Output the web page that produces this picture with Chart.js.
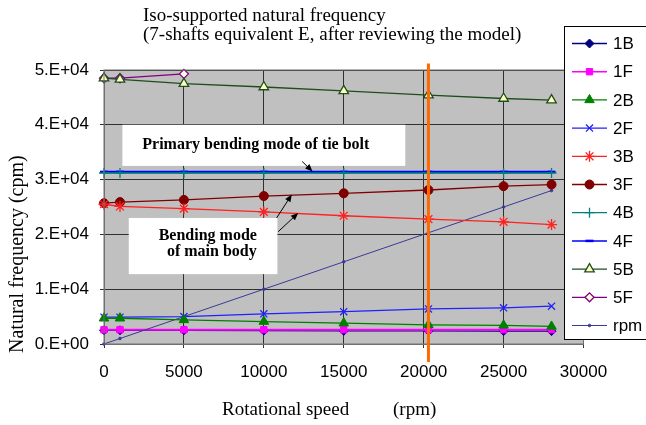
<!DOCTYPE html>
<html>
<head>
<meta charset="utf-8">
<script src="https://cdn.jsdelivr.net/npm/chart.js@4/dist/chart.umd.min.js"></script>
<style>
  html, body { margin: 0; padding: 0; background: #fff; }
  #wrap { width: 646px; height: 425px; position: relative; }
</style>
</head>
<body>
<div id="wrap"><canvas id="freqChart" width="646" height="425"></canvas></div>
<script>
'use strict';

// ********************* DATA *********************

let speeds = [0, 1000, 5000, 10000, 15000, 20300, 25000, 28000];

let mode1B = [2500, 2500, 2500, 2450, 2400, 2400, 2350, 2350];
let mode1F = [2600, 2600, 2600, 2600, 2600, 2600, 2600, 2600];
let mode2B = [4700, 4700, 4400, 4100, 3800, 3500, 3400, 3200];
let mode2F = [4900, 4900, 5000, 5500, 5900, 6400, 6600, 6900];
let mode3B = [25500, 25100, 24700, 24100, 23400, 22800, 22300, 21800];
let mode3F = [25700, 25900, 26300, 27000, 27500, 28100, 28800, 29100];
let mode4B = [31200, 31200, 31200, 31200, 31200, 31200, 31200, 31200];
let mode4F = [31400, 31400, 31400, 31400, 31400, 31400, 31400, 31400];
let mode5B = [48500, 48300, 47500, 46900, 46200, 45400, 44800, 44500];
let mode5F = [48500, 48500, 49300];
let rpmLine = [0, 1000, 5000, 10000, 15000, 20300, 25000, 28000];

let xTicks = [0, 5000, 10000, 15000, 20000, 25000, 30000];
let yTickLabels = ['0.E+00', '1.E+04', '2.E+04', '3.E+04', '4.E+04', '5.E+04'];

let ratedSpeed = 20300;

let chartTitle = ['Iso-supported natural frequency', '(7-shafts equivalent E, after reviewing the model)'];
let xTitle = ['Rotational speed', '(rpm)'];
let yTitle = 'Natural frequency (cpm)';
let tieBoltNote = 'Primary bending mode of tie bolt';
let mainBodyNote = ['Bending mode', 'of main body'];

// ********************* HELPERS *********************

function toPoints(values) {
  let pts = [];
  for (let i = 0; i < values.length; i++) {
    pts.push({ x: speeds[i], y: values[i] });
  }
  return pts;
}

function makeSet(label, values, color, style, opts) {
  return Object.assign({
    label: label,
    data: toPoints(values),
    borderColor: color,
    backgroundColor: color,
    pointBorderColor: color,
    pointBackgroundColor: color,
    pointStyle: style,
    pointRadius: 4,
    pointBorderWidth: 1,
    borderWidth: 1.3,
    tension: 0,
    clip: false
  }, opts || {});
}

let datasets = [
  makeSet('1B', mode1B, '#000080', 'rectRot', { pointRadius: 4.5, order: 2 }),
  makeSet('1F', mode1F, '#ff00ff', 'rect', { pointRadius: 4.5, borderWidth: 2, order: 1 }),
  makeSet('2B', mode2B, '#008000', 'triangle', { pointRadius: 5.5 }),
  makeSet('2F', mode2F, '#2020ff', 'crossRot', { pointRadius: 5, pointBorderWidth: 1.3, backgroundColor: 'transparent' }),
  makeSet('3B', mode3B, '#ff2020', 'star', { pointRadius: 5.5, pointBorderWidth: 1.3, backgroundColor: 'transparent' }),
  makeSet('3F', mode3F, '#800000', 'circle', { pointRadius: 4.5 }),
  makeSet('4B', mode4B, '#008080', 'cross', { pointRadius: 5, pointBorderWidth: 1.3 }),
  makeSet('4F', mode4F, '#0000ff', 'line', { pointRadius: 4, pointBorderWidth: 2.5, borderWidth: 2.5 }),
  makeSet('5B', mode5B, '#1e4d1e', 'triangle', { pointRadius: 5.5, pointBackgroundColor: '#ffffc0', pointBorderWidth: 1.3 }),
  makeSet('5F', mode5F, '#800080', 'rectRot', { pointRadius: 4.5, pointBackgroundColor: '#ffffe0', pointBorderWidth: 1.3 }),
  makeSet('rpm', rpmLine, '#3a3a98', 'circle', { pointRadius: 1.3, borderWidth: 1 })
];

// ******************* PLUGIN: background, notes, legend ***************************

let decorPlugin = {
  id: 'decor',
  beforeDraw(chart) {
    let c = chart.ctx;
    let a = chart.chartArea;
    c.save();
    c.fillStyle = '#c0c0c0';
    c.fillRect(a.left, a.top, a.right - a.left, a.bottom - a.top);
    c.restore();
  },
  afterDraw(chart) {
    let c = chart.ctx;
    let a = chart.chartArea;
    let xs = chart.scales.x;
    let ys = chart.scales.y;

    c.save();
    // plot frame
    c.strokeStyle = '#707070';
    c.lineWidth = 1;
    c.strokeRect(a.left, a.top, a.right - a.left, a.bottom - a.top);

    // title
    c.fillStyle = '#000';
    c.font = '19px "Liberation Serif"';
    c.textBaseline = 'alphabetic';
    c.textAlign = 'left';
    c.fillText(chartTitle[0], 143, 21);
    c.fillText(chartTitle[1], 143, 40);

    // axis titles
    c.fillText(xTitle[0], 222, 415);
    c.fillText(xTitle[1], 393, 415);
    c.save();
    c.translate(23, 353);
    c.rotate(-Math.PI / 2);
    c.font = '20px "Liberation Serif"';
    c.fillText(yTitle, 0, 0);
    c.restore();

    // note boxes
    c.fillStyle = '#fff';
    let b1x = xs.getPixelForValue(1150), b1y = ys.getPixelForValue(40000);
    let b1w = xs.getPixelForValue(18850) - b1x, b1h = ys.getPixelForValue(32500) - b1y;
    c.fillRect(b1x, b1y, b1w, b1h);
    let b2x = xs.getPixelForValue(1550), b2y = ys.getPixelForValue(23000);
    let b2w = xs.getPixelForValue(10850) - b2x, b2h = ys.getPixelForValue(12750) - b2y;
    c.fillRect(b2x, b2y, b2w, b2h);

    c.fillStyle = '#000';
    c.font = 'bold 16px "Liberation Serif"';
    c.textAlign = 'center';
    c.textBaseline = 'middle';
    c.fillText(tieBoltNote, b1x + b1w / 2 - 8, b1y + 20);
    c.fillText(mainBodyNote[0], b2x + 79, b2y + 18);
    c.fillText(mainBodyNote[1], b2x + 83, b2y + 34);

    // arrows
    function arrow(x0, y0, x1, y1) {
      let p0 = [xs.getPixelForValue(x0), ys.getPixelForValue(y0)];
      let p1 = [xs.getPixelForValue(x1), ys.getPixelForValue(y1)];
      let ang = Math.atan2(p1[1] - p0[1], p1[0] - p0[0]);
      c.strokeStyle = '#000';
      c.lineWidth = 1;
      c.beginPath();
      c.moveTo(p0[0], p0[1]);
      c.lineTo(p1[0] - Math.cos(ang) * 5, p1[1] - Math.sin(ang) * 5);
      c.stroke();
      c.beginPath();
      c.moveTo(p1[0], p1[1]);
      c.lineTo(p1[0] - Math.cos(ang - 0.4) * 8, p1[1] - Math.sin(ang - 0.4) * 8);
      c.lineTo(p1[0] - Math.cos(ang + 0.4) * 8, p1[1] - Math.sin(ang + 0.4) * 8);
      c.closePath();
      c.fill();
    }
    arrow(12400, 33300, 13050, 31500);
    arrow(10800, 23000, 11750, 27300);
    arrow(10900, 20500, 12150, 23900);

    // rated speed line
    let ox = xs.getPixelForValue(ratedSpeed);
    c.strokeStyle = '#ff6a00';
    c.lineWidth = 3;
    c.beginPath();
    c.moveTo(ox, ys.getPixelForValue(51200));
    c.lineTo(ox, ys.getPixelForValue(-3300));
    c.stroke();

    // legend
    let lx = 564, ly = 26;
    c.fillStyle = '#fff';
    c.fillRect(lx, ly, 90, 313);
    c.strokeStyle = '#000';
    c.lineWidth = 1;
    c.strokeRect(lx + 0.5, ly + 0.5, 90, 313);
    c.font = '17px "Liberation Sans"';
    c.textAlign = 'left';
    c.textBaseline = 'middle';
    for (let i = 0; i < chart.data.datasets.length; i++) {
      let ds = chart.data.datasets[i];
      let y = 43.5 + i * 28.2;
      c.strokeStyle = ds.borderColor;
      c.lineWidth = Math.min(ds.borderWidth, 1.5);
      c.beginPath();
      c.moveTo(572, y);
      c.lineTo(607, y);
      c.stroke();
      c.fillStyle = ds.pointBackgroundColor;
      c.strokeStyle = ds.pointBorderColor;
      c.lineWidth = ds.pointBorderWidth;
      Chart.helpers.drawPoint(c, { pointStyle: ds.pointStyle, radius: ds.pointRadius, rotation: 0, borderWidth: ds.pointBorderWidth }, 589.5, y);
      c.fillStyle = '#000';
      c.fillText(ds.label, 613, y + 1);
    }
    c.restore();
  }
};

// ******************* RENDER CHART ***************************

let ctx = document.getElementById('freqChart');

new Chart(ctx, {
  type: 'line',
  data: { datasets: datasets },
  options: {
    responsive: false,
    animation: false,
    events: [],
    layout: { padding: { left: 0, right: 62.5, top: 70, bottom: 0 } },
    plugins: {
      legend: { display: false },
      title: { display: false },
      tooltip: { enabled: false }
    },
    scales: {
      x: {
        type: 'linear',
        min: 0,
        max: 30000,
        afterFit(s) { s.height = 81; },
        afterBuildTicks(s) { s.ticks = xTicks.map(v => ({ value: v })); },
        ticks: {
          color: '#000',
          font: { family: 'Liberation Sans', size: 17 },
          padding: 14,
          maxRotation: 0,
          callback: v => String(v)
        },
        grid: { color: '#303030', lineWidth: 1, tickLength: 4, tickColor: '#303030' },
        border: { color: '#707070' }
      },
      y: {
        type: 'linear',
        min: 0,
        max: 50000,
        afterFit(s) { s.width = 104; },
        ticks: {
          stepSize: 10000,
          color: '#000',
          font: { family: 'Liberation Sans', size: 17 },
          padding: 11,
          callback: (v, i) => yTickLabels[i]
        },
        grid: { color: '#303030', lineWidth: 1, tickLength: 4, tickColor: '#303030' },
        border: { color: '#707070' }
      }
    }
  },
  plugins: [decorPlugin]
});
</script>
</body>
</html>
